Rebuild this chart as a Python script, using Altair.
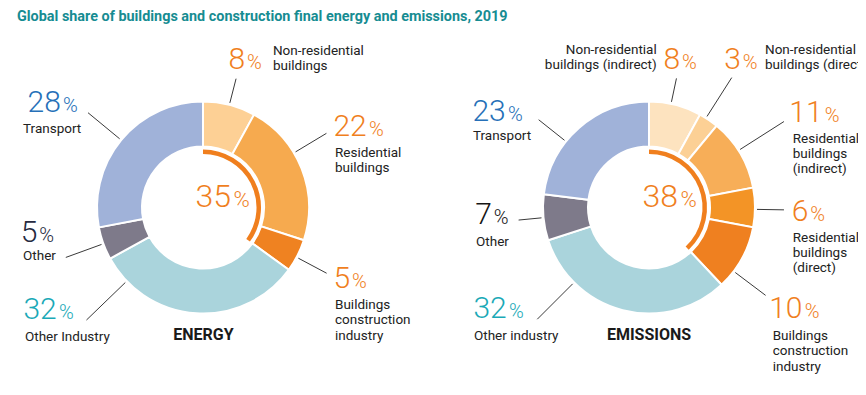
import math
import altair as alt
import pandas as pd

# ---------------- data ----------------
energy_categories = ["Non-residential buildings", "Residential buildings",
                     "Buildings construction industry", "Other Industry", "Other", "Transport"]
energy_labels = ["Non-residential\nbuildings", "Residential\nbuildings",
                 "Buildings\nconstruction\nindustry", "Other Industry", "Other", "Transport"]
energy_values = [8, 22, 5, 32, 5, 28]
energy_is_building = [True, True, True, False, False, False]

emissions_categories = ["Non-residential buildings (indirect)", "Non-residential buildings (direct)",
                        "Residential buildings (indirect)", "Residential buildings (direct)",
                        "Buildings construction industry", "Other industry", "Other", "Transport"]
emissions_labels = ["Non-residential\nbuildings (indirect)", "Non-residential\nbuildings (direct)",
                    "Residential\nbuildings\n(indirect)", "Residential\nbuildings\n(direct)",
                    "Buildings\nconstruction\nindustry", "Other industry", "Other", "Transport"]
emissions_values = [8, 3, 11, 6, 10, 32, 7, 23]
emissions_is_building = [True, True, True, True, True, False, False, False]

title_text = "Global share of buildings and construction final energy and emissions, 2019"

# ---------------- styles / layout ----------------
energy_fill = ["#FDD095", "#F6AA4F", "#EF8221", "#AAD4DC", "#7E7A8A", "#A0B2D9"]
emissions_fill = ["#FDE3BF", "#FCD095", "#F7AE58", "#F39426", "#EF8020", "#AAD4DC", "#7E7A8A", "#A0B2D9"]
ORANGE, TEAL, BLUE = "#F07F1E", "#1AA9B7", "#2670B8"
energy_numcol = [ORANGE, ORANGE, ORANGE, TEAL, "#262A40", BLUE]
emissions_numcol = [ORANGE, ORANGE, ORANGE, ORANGE, ORANGE, TEAL, "#151515", BLUE]

OFF = 8  # page margin
E_CENTER = (203 - OFF, 207.5 - OFF)
M_CENTER = (649 - OFF, 207.5 - OFF)
R_IN, R_OUT = 61, 106
LEAD_IN = 108

# leader angle, leader outer radius, number dx/dy, name dx/dy, name align (relative to leader end)
energy_layout = [
    (14.4, 133, -7.5, -9.7, 36.9, -23.7, "left"),
    (59, 144, 7.0, 2.7, 8.6, 23.4, "left"),
    (118, 140, 7.0, 14.8, 8.4, 35.8, "left"),
    (226, 162, -63.0, -0.7, -61.5, 20.7, "left"),
    (250, 146, -45.0, -15.7, -42.8, 2.6, "left"),
    (309.5, 149, -60.5, -1.0, -65.0, 20.6, "left"),
]
emissions_layout = [
    (12, 132, -12.9, -9.1, -19.7, -24.4, "right"),
    (32.5, 154, -7.5, -8.3, 33.3, -23.6, "left"),
    (57.5, 160, 5.3, 0.2, 8.8, 21.2, "left"),
    (91, 135, 7.8, 11.1, 8.7, 31.8, "left"),
    (127, 146, 3.6, 22.9, 7.1, 44.6, "left"),
    (225, 158, -63.8, -0.9, -63.3, 20.8, "left"),
    (264.5, 131, -43.4, 3.9, -42.6, 25.9, "left"),
    (308.5, 141, -66.2, 1.0, -65.7, 20.3, "left"),
]

FONT = "Roboto"
NUM_SIZE, PCT_SIZE, DIGIT_W = 30, 20, 17.0
NAME_SIZE, LINE_H = 13.5, 15.3


def polar(c, ang, r):
    a = math.radians(ang)
    return c[0] + r * math.sin(a), c[1] - r * math.cos(a)


def build(cats, labels, values, fills, numcols, layout, center):
    seg = pd.DataFrame({"category": cats, "value": values, "order": range(len(cats)), "fill": fills})
    rows = []
    for lab, v, col, (ang, ro, ndx, ndy, tdx, tdy, al) in zip(labels, values, numcols, layout):
        x1, y1 = polar(center, ang, LEAD_IN)
        x2, y2 = polar(center, ang, ro)
        nx = x2 + ndx
        rows.append(dict(x1=x1, y1=y1, x2=x2, y2=y2, num=str(v), col=col,
                         nx=nx, ny=y2 + ndy, px=nx + len(str(v)) * DIGIT_W + 1.5,
                         name=lab, tx=x2 + tdx, ty=y2 + tdy, align=al))
    return seg, pd.DataFrame(rows)


e_seg, e_lab = build(energy_categories, energy_labels, energy_values, energy_fill,
                     energy_numcol, energy_layout, E_CENTER)
m_seg, m_lab = build(emissions_categories, emissions_labels, emissions_values, emissions_fill,
                     emissions_numcol, emissions_layout, M_CENTER)
labels = pd.concat([e_lab, m_lab], ignore_index=True)

theta_scale = alt.Scale(domain=[0, 100])


def donut(seg, center):
    return alt.Chart(seg).mark_arc(innerRadius=R_IN, outerRadius=R_OUT, stroke="white",
                                   strokeWidth=2).encode(
        theta=alt.Theta("value:Q", stack=True, scale=theta_scale),
        order=alt.Order("order:Q"),
        color=alt.Color("fill:N", scale=None),
        x=alt.value(center[0]), y=alt.value(center[1]),
    )


def share_arc(values, is_b, center):
    share = sum(v for v, b in zip(values, is_b) if b)
    df = pd.DataFrame({"zero": [0], "share": [share]})
    return alt.Chart(df).mark_arc(innerRadius=53.5, outerRadius=58, color=ORANGE).encode(
        theta=alt.Theta("zero:Q", scale=theta_scale),
        theta2="share:Q",
        x=alt.value(center[0]), y=alt.value(center[1]),
    ), share


e_share_arc, e_share = share_arc(energy_values, energy_is_building, E_CENTER)
m_share_arc, m_share = share_arc(emissions_values, emissions_is_building, M_CENTER)

centers = pd.DataFrame({
    "num": [str(e_share), str(m_share)],
    "nx": [E_CENTER[0] - 7.5, M_CENTER[0] - 6.5],
    "ny": [206.7 - OFF, 206.7 - OFF],
    "word": ["ENERGY", "EMISSIONS"],
    "cx": [E_CENTER[0] + 0.5, M_CENTER[0]],
})
centers["px"] = centers["nx"] + centers["num"].str.len() * 18.0 + 2

X = lambda f: alt.X(f, scale=None, axis=None)
Y = lambda f: alt.Y(f, scale=None, axis=None)

base = alt.Chart(labels)
leaders = base.mark_rule(color="#3a3a3a", strokeWidth=1).encode(
    x=X("x1:Q"), y=Y("y1:Q"), x2="x2:Q", y2="y2:Q")
nums = base.mark_text(align="left", baseline="alphabetic", font=FONT, fontSize=NUM_SIZE,
                      fontWeight=300).encode(x=X("nx:Q"), y=Y("ny:Q"), text="num:N",
                                             color=alt.Color("col:N", scale=None))
pcts = base.mark_text(align="left", baseline="alphabetic", font=FONT, fontSize=PCT_SIZE,
                      fontWeight=300, text="%").encode(x=X("px:Q"), y=Y("ny:Q"),
                                                       color=alt.Color("col:N", scale=None))
names_l = base.transform_filter("datum.align == 'left'").mark_text(
    align="left", baseline="alphabetic", font=FONT, fontSize=NAME_SIZE, color="#222222",
    lineBreak="\n", lineHeight=LINE_H).encode(x=X("tx:Q"), y=Y("ty:Q"), text="name:N")
names_r = base.transform_filter("datum.align == 'right'").mark_text(
    align="right", baseline="alphabetic", font=FONT, fontSize=NAME_SIZE, color="#222222",
    lineBreak="\n", lineHeight=LINE_H).encode(x=X("tx:Q"), y=Y("ty:Q"), text="name:N")

cbase = alt.Chart(centers)
cnum = cbase.mark_text(align="left", baseline="alphabetic", font=FONT, fontSize=32,
                       fontWeight=300, color=ORANGE).encode(x=X("nx:Q"), y=Y("ny:Q"), text="num:N")
cpct = cbase.mark_text(align="left", baseline="alphabetic", font=FONT, fontSize=22,
                       fontWeight=300, color=ORANGE, text="%").encode(x=X("px:Q"), y=Y("ny:Q"))
cword = cbase.mark_text(align="center", baseline="alphabetic", font=FONT, fontSize=16,
                        fontWeight="bold", color="#1a1a1a").encode(
    x=X("cx:Q"), y=alt.value(340 - OFF), text="word:N")

title = alt.Chart(pd.DataFrame({"t": [title_text]})).mark_text(
    align="left", baseline="alphabetic", font=FONT, fontSize=14.4,
    fontWeight="bold", color="#168C92").encode(x=alt.value(17 - OFF), y=alt.value(20.5 - OFF),
                                                 text="t:N")

chart = alt.layer(
    donut(e_seg, E_CENTER), donut(m_seg, M_CENTER), e_share_arc, m_share_arc,
    leaders, nums, pcts, names_l, names_r, cnum, cpct, cword, title,
).properties(
    width=850, height=379, autosize=alt.AutoSizeParams(type="none"), padding=0,
).configure_view(stroke=None)

chart.save("out.html", embed_options={"renderer": "svg", "actions": False})
